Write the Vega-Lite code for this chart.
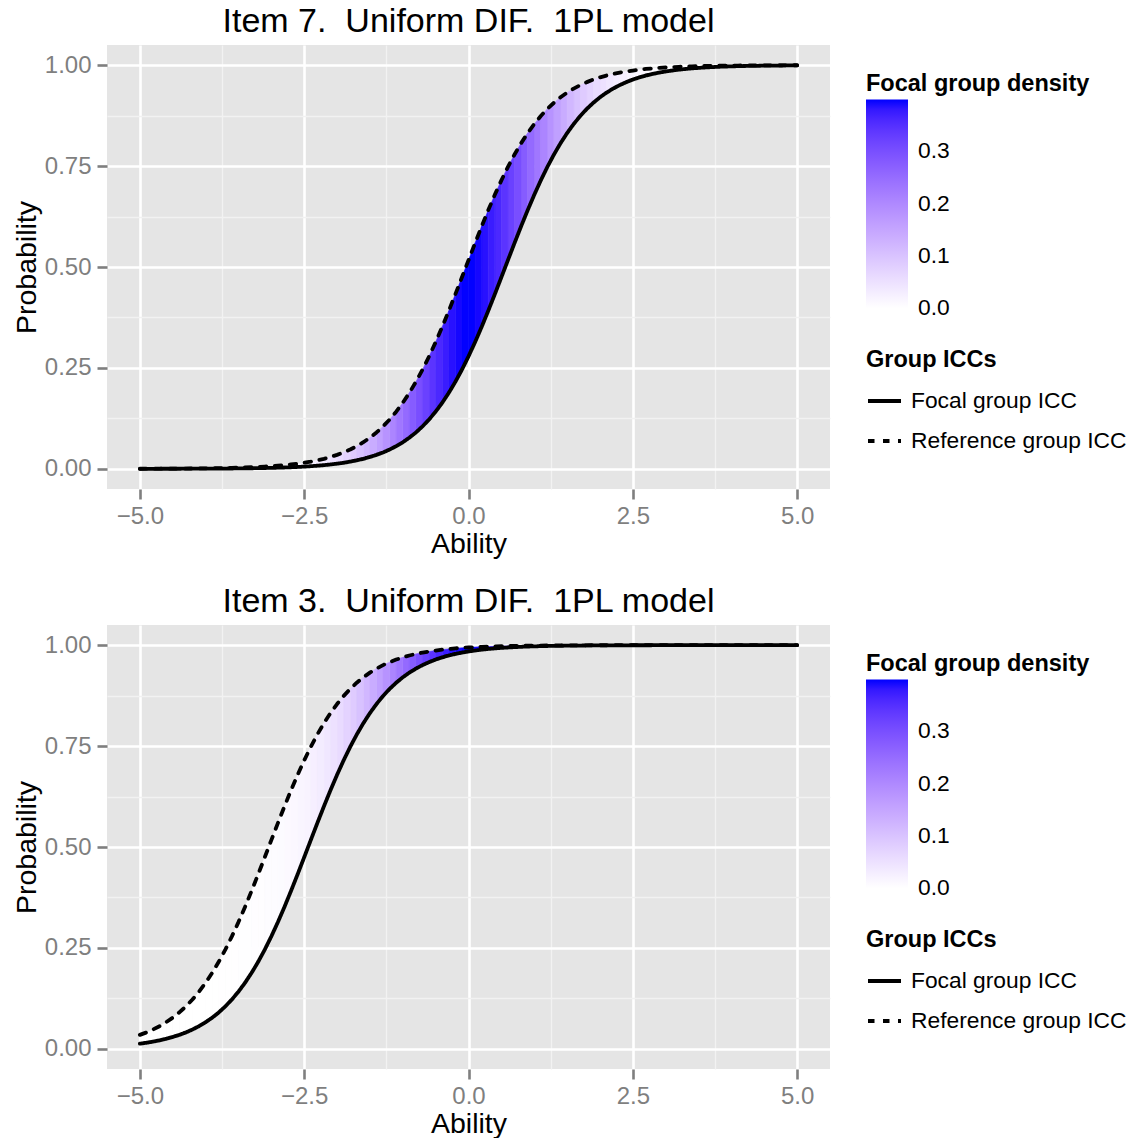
{
"$schema": "https://vega.github.io/schema/vega-lite/v6.json",
"background": "white",
"padding": {"left": 12, "top": 4, "right": 0, "bottom": 0},
"config": {
 "font": "Liberation Sans",
 "view": {"fill": "#E5E5E5", "stroke": null},
 "title": {"fontSize": 34, "fontWeight": "normal", "color": "#000000", "anchor": "middle", "frame": "group", "baseline": "alphabetic", "offset": 6.4},
 "axis": {"domain": false, "tickColor": "#7F7F7F", "tickSize": 10, "tickWidth": 2.6, "labelColor": "#7F7F7F", "labelFontSize": 24, "titleFontSize": 28.5, "titleColor": "#000000", "titleFontWeight": "normal", "labelFlush": false, "labelOverlap": false, "gridOpacity": 1},
 "axisX": {"labelPadding": 5, "titlePadding": 1},
 "axisY": {"labelPadding": 6, "titlePadding": 3},
 "legend": {"titleFontSize": 23.5, "titleFontWeight": "bold", "titleColor": "#000000", "labelFontSize": 22.8, "labelColor": "#000000", "labelLimit": 0, "titleLimit": 0}
},
"data": {"values": [
{"x":-5,"f1":0.0001,"r1":0.0002,"f2":0.0127,"r2":0.0345,"c1":0,"c2":0,"g1":-25,"g2":-25},
{"x":-4.9,"f1":0.0001,"r1":0.0003,"f2":0.0150,"r2":0.0406,"c1":0,"c2":0,"g1":-25,"g2":-24},
{"x":-4.8,"f1":0.0001,"r1":0.0003,"f2":0.0178,"r2":0.0478,"c1":0,"c2":0,"g1":-24,"g2":-24},
{"x":-4.7,"f1":0.0001,"r1":0.0004,"f2":0.0210,"r2":0.0561,"c1":0,"c2":0,"g1":-24,"g2":-23},
{"x":-4.6,"f1":0.0002,"r1":0.0004,"f2":0.0248,"r2":0.0659,"c1":0,"c2":0,"g1":-23,"g2":-23},
{"x":-4.5,"f1":0.0002,"r1":0.0005,"f2":0.0293,"r2":0.0771,"c1":0,"c2":0,"g1":-23,"g2":-22},
{"x":-4.4,"f1":0.0002,"r1":0.0006,"f2":0.0345,"r2":0.0901,"c1":0,"c2":0,"g1":-22,"g2":-22},
{"x":-4.3,"f1":0.0003,"r1":0.0007,"f2":0.0406,"r2":0.1051,"c1":0,"c2":0.0001,"g1":-22,"g2":-21},
{"x":-4.2,"f1":0.0003,"r1":0.0008,"f2":0.0478,"r2":0.1222,"c1":0.0001,"c2":0.0001,"g1":-21,"g2":-21},
{"x":-4.1,"f1":0.0004,"r1":0.0010,"f2":0.0561,"r2":0.1416,"c1":0.0001,"c2":0.0001,"g1":-21,"g2":-20},
{"x":-4.0,"f1":0.0004,"r1":0.0012,"f2":0.0659,"r2":0.1636,"c1":0.0002,"c2":0.0001,"g1":-20,"g2":-20},
{"x":-3.9,"f1":0.0005,"r1":0.0014,"f2":0.0771,"r2":0.1882,"c1":0.0002,"c2":0.0002,"g1":-20,"g2":-19},
{"x":-3.8,"f1":0.0006,"r1":0.0017,"f2":0.0901,"r2":0.2155,"c1":0.0004,"c2":0.0002,"g1":-19,"g2":-19},
{"x":-3.7,"f1":0.0007,"r1":0.0020,"f2":0.1051,"r2":0.2456,"c1":0.0004,"c2":0.0005,"g1":-19,"g2":-18},
{"x":-3.6,"f1":0.0008,"r1":0.0023,"f2":0.1222,"r2":0.2785,"c1":0.0007,"c2":0.0005,"g1":-18,"g2":-18},
{"x":-3.5,"f1":0.0010,"r1":0.0028,"f2":0.1416,"r2":0.3139,"c1":0.0007,"c2":0.0010,"g1":-18,"g2":-17},
{"x":-3.4,"f1":0.0012,"r1":0.0033,"f2":0.1636,"r2":0.3516,"c1":0.0015,"c2":0.0010,"g1":-17,"g2":-17},
{"x":-3.3,"f1":0.0014,"r1":0.0039,"f2":0.1882,"r2":0.3913,"c1":0.0015,"c2":0.0020,"g1":-17,"g2":-16},
{"x":-3.2,"f1":0.0017,"r1":0.0046,"f2":0.2155,"r2":0.4324,"c1":0.0028,"c2":0.0020,"g1":-16,"g2":-16},
{"x":-3.1,"f1":0.0020,"r1":0.0055,"f2":0.2456,"r2":0.4745,"c1":0.0028,"c2":0.0038,"g1":-16,"g2":-15},
{"x":-3.0,"f1":0.0023,"r1":0.0065,"f2":0.2785,"r2":0.5170,"c1":0.0051,"c2":0.0038,"g1":-15,"g2":-15},
{"x":-2.9,"f1":0.0028,"r1":0.0077,"f2":0.3139,"r2":0.5592,"c1":0.0051,"c2":0.0069,"g1":-15,"g2":-14},
{"x":-2.8,"f1":0.0033,"r1":0.0091,"f2":0.3516,"r2":0.6006,"c1":0.0091,"c2":0.0069,"g1":-14,"g2":-14},
{"x":-2.7,"f1":0.0039,"r1":0.0108,"f2":0.3913,"r2":0.6406,"c1":0.0091,"c2":0.0119,"g1":-14,"g2":-13},
{"x":-2.6,"f1":0.0046,"r1":0.0127,"f2":0.4324,"r2":0.6787,"c1":0.0154,"c2":0.0119,"g1":-13,"g2":-13},
{"x":-2.5,"f1":0.0055,"r1":0.0150,"f2":0.4745,"r2":0.7146,"c1":0.0154,"c2":0.0198,"g1":-13,"g2":-12},
{"x":-2.4,"f1":0.0065,"r1":0.0178,"f2":0.5170,"r2":0.7480,"c1":0.0252,"c2":0.0198,"g1":-12,"g2":-12},
{"x":-2.3,"f1":0.0077,"r1":0.0210,"f2":0.5592,"r2":0.7787,"c1":0.0252,"c2":0.0317,"g1":-12,"g2":-11},
{"x":-2.2,"f1":0.0091,"r1":0.0248,"f2":0.6006,"r2":0.8066,"c1":0.0396,"c2":0.0317,"g1":-11,"g2":-11},
{"x":-2.1,"f1":0.0108,"r1":0.0293,"f2":0.6406,"r2":0.8317,"c1":0.0396,"c2":0.0488,"g1":-11,"g2":-10},
{"x":-2.0,"f1":0.0127,"r1":0.0345,"f2":0.6787,"r2":0.8542,"c1":0.0596,"c2":0.0488,"g1":-10,"g2":-10},
{"x":-1.9,"f1":0.0150,"r1":0.0406,"f2":0.7146,"r2":0.8741,"c1":0.0596,"c2":0.0721,"g1":-10,"g2":-9},
{"x":-1.8,"f1":0.0178,"r1":0.0478,"f2":0.7480,"r2":0.8917,"c1":0.0863,"c2":0.0721,"g1":-9,"g2":-9},
{"x":-1.7,"f1":0.0210,"r1":0.0561,"f2":0.7787,"r2":0.9070,"c1":0.0863,"c2":0.1023,"g1":-9,"g2":-8},
{"x":-1.6,"f1":0.0248,"r1":0.0659,"f2":0.8066,"r2":0.9204,"c1":0.1200,"c2":0.1023,"g1":-8,"g2":-8},
{"x":-1.5,"f1":0.0293,"r1":0.0771,"f2":0.8317,"r2":0.9320,"c1":0.1200,"c2":0.1394,"g1":-8,"g2":-7},
{"x":-1.4,"f1":0.0345,"r1":0.0901,"f2":0.8542,"r2":0.9420,"c1":0.1604,"c2":0.1394,"g1":-7,"g2":-7},
{"x":-1.3,"f1":0.0406,"r1":0.1051,"f2":0.8741,"r2":0.9506,"c1":0.1604,"c2":0.1826,"g1":-7,"g2":-6},
{"x":-1.2,"f1":0.0478,"r1":0.1222,"f2":0.8917,"r2":0.9580,"c1":0.2059,"c2":0.1826,"g1":-6,"g2":-6},
{"x":-1.1,"f1":0.0561,"r1":0.1416,"f2":0.9070,"r2":0.9644,"c1":0.2059,"c2":0.2299,"g1":-6,"g2":-5},
{"x":-1.0,"f1":0.0659,"r1":0.1636,"f2":0.9204,"r2":0.9698,"c1":0.2541,"c2":0.2299,"g1":-5,"g2":-5},
{"x":-0.9,"f1":0.0771,"r1":0.1882,"f2":0.9320,"r2":0.9744,"c1":0.2541,"c2":0.2780,"g1":-5,"g2":-4},
{"x":-0.8,"f1":0.0901,"r1":0.2155,"f2":0.9420,"r2":0.9783,"c1":0.3011,"c2":0.2780,"g1":-4,"g2":-4},
{"x":-0.7,"f1":0.1051,"r1":0.2456,"f2":0.9506,"r2":0.9816,"c1":0.3011,"c2":0.3230,"g1":-4,"g2":-3},
{"x":-0.6,"f1":0.1222,"r1":0.2785,"f2":0.9580,"r2":0.9844,"c1":0.3429,"c2":0.3230,"g1":-3,"g2":-3},
{"x":-0.5,"f1":0.1416,"r1":0.3139,"f2":0.9644,"r2":0.9868,"c1":0.3429,"c2":0.3605,"g1":-3,"g2":-2},
{"x":-0.4,"f1":0.1636,"r1":0.3516,"f2":0.9698,"r2":0.9889,"c1":0.3752,"c2":0.3605,"g1":-2,"g2":-2},
{"x":-0.3,"f1":0.1882,"r1":0.3913,"f2":0.9744,"r2":0.9906,"c1":0.3752,"c2":0.3867,"g1":-2,"g2":-1},
{"x":-0.2,"f1":0.2155,"r1":0.4324,"f2":0.9783,"r2":0.9921,"c1":0.3945,"c2":0.3867,"g1":-1,"g2":-1},
{"x":-0.1,"f1":0.2456,"r1":0.4745,"f2":0.9816,"r2":0.9933,"c1":0.3945,"c2":0.3984,"g1":-1,"g2":0},
{"x":0,"f1":0.2785,"r1":0.5170,"f2":0.9844,"r2":0.9943,"c1":0.3984,"c2":0.3984,"g1":0,"g2":0},
{"x":0.1,"f1":0.3139,"r1":0.5592,"f2":0.9868,"r2":0.9952,"c1":0.3984,"c2":0.3945,"g1":0,"g2":1},
{"x":0.2,"f1":0.3516,"r1":0.6006,"f2":0.9889,"r2":0.9960,"c1":0.3867,"c2":0.3945,"g1":1,"g2":1},
{"x":0.3,"f1":0.3913,"r1":0.6406,"f2":0.9906,"r2":0.9966,"c1":0.3867,"c2":0.3752,"g1":1,"g2":2},
{"x":0.4,"f1":0.4324,"r1":0.6787,"f2":0.9921,"r2":0.9971,"c1":0.3605,"c2":0.3752,"g1":2,"g2":2},
{"x":0.5,"f1":0.4745,"r1":0.7146,"f2":0.9933,"r2":0.9976,"c1":0.3605,"c2":0.3429,"g1":2,"g2":3},
{"x":0.6,"f1":0.5170,"r1":0.7480,"f2":0.9943,"r2":0.9980,"c1":0.3230,"c2":0.3429,"g1":3,"g2":3},
{"x":0.7,"f1":0.5592,"r1":0.7787,"f2":0.9952,"r2":0.9983,"c1":0.3230,"c2":0.3011,"g1":3,"g2":4},
{"x":0.8,"f1":0.6006,"r1":0.8066,"f2":0.9960,"r2":0.9985,"c1":0.2780,"c2":0.3011,"g1":4,"g2":4},
{"x":0.9,"f1":0.6406,"r1":0.8317,"f2":0.9966,"r2":0.9988,"c1":0.2780,"c2":0.2541,"g1":4,"g2":5},
{"x":1.0,"f1":0.6787,"r1":0.8542,"f2":0.9971,"r2":0.9990,"c1":0.2299,"c2":0.2541,"g1":5,"g2":5},
{"x":1.1,"f1":0.7146,"r1":0.8741,"f2":0.9976,"r2":0.9991,"c1":0.2299,"c2":0.2059,"g1":5,"g2":6},
{"x":1.2,"f1":0.7480,"r1":0.8917,"f2":0.9980,"r2":0.9993,"c1":0.1826,"c2":0.2059,"g1":6,"g2":6},
{"x":1.3,"f1":0.7787,"r1":0.9070,"f2":0.9983,"r2":0.9994,"c1":0.1826,"c2":0.1604,"g1":6,"g2":7},
{"x":1.4,"f1":0.8066,"r1":0.9204,"f2":0.9985,"r2":0.9995,"c1":0.1394,"c2":0.1604,"g1":7,"g2":7},
{"x":1.5,"f1":0.8317,"r1":0.9320,"f2":0.9988,"r2":0.9996,"c1":0.1394,"c2":0.1200,"g1":7,"g2":8},
{"x":1.6,"f1":0.8542,"r1":0.9420,"f2":0.9990,"r2":0.9996,"c1":0.1023,"c2":0.1200,"g1":8,"g2":8},
{"x":1.7,"f1":0.8741,"r1":0.9506,"f2":0.9991,"r2":0.9997,"c1":0.1023,"c2":0.0863,"g1":8,"g2":9},
{"x":1.8,"f1":0.8917,"r1":0.9580,"f2":0.9993,"r2":0.9997,"c1":0.0721,"c2":0.0863,"g1":9,"g2":9},
{"x":1.9,"f1":0.9070,"r1":0.9644,"f2":0.9994,"r2":0.9998,"c1":0.0721,"c2":0.0596,"g1":9,"g2":10},
{"x":2.0,"f1":0.9204,"r1":0.9698,"f2":0.9995,"r2":0.9998,"c1":0.0488,"c2":0.0596,"g1":10,"g2":10},
{"x":2.1,"f1":0.9320,"r1":0.9744,"f2":0.9996,"r2":0.9998,"c1":0.0488,"c2":0.0396,"g1":10,"g2":11},
{"x":2.2,"f1":0.9420,"r1":0.9783,"f2":0.9996,"r2":0.9999,"c1":0.0317,"c2":0.0396,"g1":11,"g2":11},
{"x":2.3,"f1":0.9506,"r1":0.9816,"f2":0.9997,"r2":0.9999,"c1":0.0317,"c2":0.0252,"g1":11,"g2":12},
{"x":2.4,"f1":0.9580,"r1":0.9844,"f2":0.9997,"r2":0.9999,"c1":0.0198,"c2":0.0252,"g1":12,"g2":12},
{"x":2.5,"f1":0.9644,"r1":0.9868,"f2":0.9998,"r2":0.9999,"c1":0.0198,"c2":0.0154,"g1":12,"g2":13},
{"x":2.6,"f1":0.9698,"r1":0.9889,"f2":0.9998,"r2":0.9999,"c1":0.0119,"c2":0.0154,"g1":13,"g2":13},
{"x":2.7,"f1":0.9744,"r1":0.9906,"f2":0.9998,"r2":0.9999,"c1":0.0119,"c2":0.0091,"g1":13,"g2":14},
{"x":2.8,"f1":0.9783,"r1":0.9921,"f2":0.9999,"r2":0.9999,"c1":0.0069,"c2":0.0091,"g1":14,"g2":14},
{"x":2.9,"f1":0.9816,"r1":0.9933,"f2":0.9999,"r2":1,"c1":0.0069,"c2":0.0051,"g1":14,"g2":15},
{"x":3.0,"f1":0.9844,"r1":0.9943,"f2":0.9999,"r2":1,"c1":0.0038,"c2":0.0051,"g1":15,"g2":15},
{"x":3.1,"f1":0.9868,"r1":0.9952,"f2":0.9999,"r2":1,"c1":0.0038,"c2":0.0028,"g1":15,"g2":16},
{"x":3.2,"f1":0.9889,"r1":0.9960,"f2":0.9999,"r2":1,"c1":0.0020,"c2":0.0028,"g1":16,"g2":16},
{"x":3.3,"f1":0.9906,"r1":0.9966,"f2":0.9999,"r2":1,"c1":0.0020,"c2":0.0015,"g1":16,"g2":17},
{"x":3.4,"f1":0.9921,"r1":0.9971,"f2":0.9999,"r2":1,"c1":0.0010,"c2":0.0015,"g1":17,"g2":17},
{"x":3.5,"f1":0.9933,"r1":0.9976,"f2":1,"r2":1,"c1":0.0010,"c2":0.0007,"g1":17,"g2":18},
{"x":3.6,"f1":0.9943,"r1":0.9980,"f2":1,"r2":1,"c1":0.0005,"c2":0.0007,"g1":18,"g2":18},
{"x":3.7,"f1":0.9952,"r1":0.9983,"f2":1,"r2":1,"c1":0.0005,"c2":0.0004,"g1":18,"g2":19},
{"x":3.8,"f1":0.9960,"r1":0.9985,"f2":1,"r2":1,"c1":0.0002,"c2":0.0004,"g1":19,"g2":19},
{"x":3.9,"f1":0.9966,"r1":0.9988,"f2":1,"r2":1,"c1":0.0002,"c2":0.0002,"g1":19,"g2":20},
{"x":4.0,"f1":0.9971,"r1":0.9990,"f2":1,"r2":1,"c1":0.0001,"c2":0.0002,"g1":20,"g2":20},
{"x":4.1,"f1":0.9976,"r1":0.9991,"f2":1,"r2":1,"c1":0.0001,"c2":0.0001,"g1":20,"g2":21},
{"x":4.2,"f1":0.9980,"r1":0.9993,"f2":1,"r2":1,"c1":0.0001,"c2":0.0001,"g1":21,"g2":21},
{"x":4.3,"f1":0.9983,"r1":0.9994,"f2":1,"r2":1,"c1":0.0001,"c2":0,"g1":21,"g2":22},
{"x":4.4,"f1":0.9985,"r1":0.9995,"f2":1,"r2":1,"c1":0,"c2":0,"g1":22,"g2":22},
{"x":4.5,"f1":0.9988,"r1":0.9996,"f2":1,"r2":1,"c1":0,"c2":0,"g1":22,"g2":23},
{"x":4.6,"f1":0.9990,"r1":0.9996,"f2":1,"r2":1,"c1":0,"c2":0,"g1":23,"g2":23},
{"x":4.7,"f1":0.9991,"r1":0.9997,"f2":1,"r2":1,"c1":0,"c2":0,"g1":23,"g2":24},
{"x":4.8,"f1":0.9993,"r1":0.9997,"f2":1,"r2":1,"c1":0,"c2":0,"g1":24,"g2":24},
{"x":4.9,"f1":0.9994,"r1":0.9998,"f2":1,"r2":1,"c1":0,"c2":0,"g1":24,"g2":25},
{"x":5.0,"f1":0.9995,"r1":0.9998,"f2":1,"r2":1,"c1":0,"c2":0,"g1":25,"g2":25}
]},
"spacing": 26,
"resolve": {"scale": {"fill": "independent", "stroke": "independent", "strokeDash": "independent"}, "legend": {"fill": "independent", "stroke": "independent", "strokeDash": "independent"}},
"vconcat": [
{
 "title": {"text": "Item 7.\u00a0 Uniform DIF.\u00a0 1PL model"},
 "width": 723, "height": 444,
 "encoding": {
  "x": {"field": "x", "type": "quantitative", "title": "Ability", "scale": {"domain": [-5.5, 5.5], "nice": false, "zero": false},
   "axis": {"values": [-5, -3.75, -2.5, -1.25, 0, 1.25, 2.5, 3.75, 5], "format": ".1f",
    "labelExpr": "abs(datum.value % 2.5) < 1e-6 ? datum.label : ''",
    "gridColor": {"condition": {"test": "abs(datum.value % 2.5) > 1e-6", "value": "#F2F2F2"}, "value": "#FFFFFF"},
    "gridWidth": {"condition": {"test": "abs(datum.value % 2.5) > 1e-6", "value": 1.3}, "value": 2.6},
    "tickOpacity": {"condition": {"test": "abs(datum.value % 2.5) > 1e-6", "value": 0}, "value": 1}}}
 },
 "layer": [
  {"mark": {"type": "area", "strokeWidth": 0.6, "opacity": 1},
   "encoding": {
    "y": {"field": "r1", "type": "quantitative", "title": "Probability", "stack": null, "scale": {"domain": [-0.05, 1.05], "nice": false, "zero": false},
     "axis": {"values": [0, 0.125, 0.25, 0.375, 0.5, 0.625, 0.75, 0.875, 1], "format": ".2f",
      "labelExpr": "abs(datum.value % 0.25) < 1e-6 ? datum.label : ''",
      "gridColor": {"condition": {"test": "abs(datum.value % 0.25) > 1e-6", "value": "#F2F2F2"}, "value": "#FFFFFF"},
      "gridWidth": {"condition": {"test": "abs(datum.value % 0.25) > 1e-6", "value": 1.3}, "value": 2.6},
      "tickOpacity": {"condition": {"test": "abs(datum.value % 0.25) > 1e-6", "value": 0}, "value": 1}}},
    "y2": {"field": "f1"},
    "detail": {"field": "g1", "type": "nominal"},
    "fill": {"field": "c1", "type": "quantitative", "title": "Focal group density", "scale": {"domain": [-0.0005, 0.3989], "range": ["#FFFFFF", "#0000FF"], "interpolate": "lab"},
     "legend": {"type": "gradient", "orient": "none", "legendX": 759, "legendY": 27, "direction": "vertical", "gradientLength": 209, "gradientThickness": 42, "values": [0, 0.1, 0.2, 0.3], "format": ".1f", "labelOffset": 10, "titlePadding": 4, "gradientStrokeWidth": 0, "labelOverlap": false}},
    "stroke": {"field": "c1", "type": "quantitative", "scale": {"domain": [0, 0.399], "range": ["#FFFFFF", "#0000FF"], "interpolate": "lab"}, "legend": null}
   }},
  {"mark": {"type": "area", "strokeWidth": 0.6, "opacity": 1},
   "encoding": {
    "y": {"field": "r1", "type": "quantitative", "title": "Probability", "stack": null, "scale": {"domain": [-0.05, 1.05], "nice": false, "zero": false}},
    "y2": {"field": "f1"},
    "detail": {"field": "g2", "type": "nominal"},
    "fill": {"field": "c2", "type": "quantitative", "title": "Focal group density", "scale": {"domain": [-0.0005, 0.3989], "range": ["#FFFFFF", "#0000FF"], "interpolate": "lab"}},
    "stroke": {"field": "c2", "type": "quantitative", "scale": {"domain": [0, 0.399], "range": ["#FFFFFF", "#0000FF"], "interpolate": "lab"}, "legend": null}
   }},
  {"mark": {"type": "line", "color": "#000000", "strokeWidth": 3.8, "strokeCap": "round", "strokeJoin": "round"},
   "encoding": {
    "y": {"field": "f1", "type": "quantitative", "title": "Probability", "stack": null, "scale": {"domain": [-0.05, 1.05], "nice": false, "zero": false}},
    "strokeDash": {"datum": "Focal group ICC", "type": "nominal", "scale": {"domain": ["Focal group ICC", "Reference group ICC"], "range": [[1, 0], [6.5, 8.5]]},
     "legend": {"title": "Group ICCs", "orient": "none", "legendX": 759, "legendY": 303, "symbolType": "stroke", "symbolSize": 1089, "symbolStrokeWidth": 3.8, "symbolStrokeColor": "#000000", "labelOffset": 8, "rowPadding": 9, "titlePadding": 11}}
   }},
  {"mark": {"type": "line", "color": "#000000", "strokeWidth": 3.8, "strokeCap": "round", "strokeJoin": "round"},
   "encoding": {
    "y": {"field": "r1", "type": "quantitative", "title": "Probability", "stack": null, "scale": {"domain": [-0.05, 1.05], "nice": false, "zero": false}},
    "strokeDash": {"datum": "Reference group ICC", "type": "nominal"}
   }}
 ]
},
{
 "title": {"text": "Item 3.\u00a0 Uniform DIF.\u00a0 1PL model"},
 "width": 723, "height": 444,
 "encoding": {
  "x": {"field": "x", "type": "quantitative", "title": "Ability", "scale": {"domain": [-5.5, 5.5], "nice": false, "zero": false},
   "axis": {"values": [-5, -3.75, -2.5, -1.25, 0, 1.25, 2.5, 3.75, 5], "format": ".1f",
    "labelExpr": "abs(datum.value % 2.5) < 1e-6 ? datum.label : ''",
    "gridColor": {"condition": {"test": "abs(datum.value % 2.5) > 1e-6", "value": "#F2F2F2"}, "value": "#FFFFFF"},
    "gridWidth": {"condition": {"test": "abs(datum.value % 2.5) > 1e-6", "value": 1.3}, "value": 2.6},
    "tickOpacity": {"condition": {"test": "abs(datum.value % 2.5) > 1e-6", "value": 0}, "value": 1}}}
 },
 "layer": [
  {"mark": {"type": "area", "strokeWidth": 0.6, "opacity": 1},
   "encoding": {
    "y": {"field": "r2", "type": "quantitative", "title": "Probability", "stack": null, "scale": {"domain": [-0.05, 1.05], "nice": false, "zero": false},
     "axis": {"values": [0, 0.125, 0.25, 0.375, 0.5, 0.625, 0.75, 0.875, 1], "format": ".2f",
      "labelExpr": "abs(datum.value % 0.25) < 1e-6 ? datum.label : ''",
      "gridColor": {"condition": {"test": "abs(datum.value % 0.25) > 1e-6", "value": "#F2F2F2"}, "value": "#FFFFFF"},
      "gridWidth": {"condition": {"test": "abs(datum.value % 0.25) > 1e-6", "value": 1.3}, "value": 2.6},
      "tickOpacity": {"condition": {"test": "abs(datum.value % 0.25) > 1e-6", "value": 0}, "value": 1}}},
    "y2": {"field": "f2"},
    "detail": {"field": "g1", "type": "nominal"},
    "fill": {"field": "c1", "type": "quantitative", "title": "Focal group density", "scale": {"domain": [-0.0005, 0.3989], "range": ["#FFFFFF", "#0000FF"], "interpolate": "lab"},
     "legend": {"type": "gradient", "orient": "none", "legendX": 759, "legendY": 27, "direction": "vertical", "gradientLength": 209, "gradientThickness": 42, "values": [0, 0.1, 0.2, 0.3], "format": ".1f", "labelOffset": 10, "titlePadding": 4, "gradientStrokeWidth": 0, "labelOverlap": false}},
    "stroke": {"field": "c1", "type": "quantitative", "scale": {"domain": [0, 0.399], "range": ["#FFFFFF", "#0000FF"], "interpolate": "lab"}, "legend": null}
   }},
  {"mark": {"type": "area", "strokeWidth": 0.6, "opacity": 1},
   "encoding": {
    "y": {"field": "r2", "type": "quantitative", "title": "Probability", "stack": null, "scale": {"domain": [-0.05, 1.05], "nice": false, "zero": false}},
    "y2": {"field": "f2"},
    "detail": {"field": "g2", "type": "nominal"},
    "fill": {"field": "c2", "type": "quantitative", "title": "Focal group density", "scale": {"domain": [-0.0005, 0.3989], "range": ["#FFFFFF", "#0000FF"], "interpolate": "lab"}},
    "stroke": {"field": "c2", "type": "quantitative", "scale": {"domain": [0, 0.399], "range": ["#FFFFFF", "#0000FF"], "interpolate": "lab"}, "legend": null}
   }},
  {"mark": {"type": "line", "color": "#000000", "strokeWidth": 3.8, "strokeCap": "round", "strokeJoin": "round"},
   "encoding": {
    "y": {"field": "f2", "type": "quantitative", "title": "Probability", "stack": null, "scale": {"domain": [-0.05, 1.05], "nice": false, "zero": false}},
    "strokeDash": {"datum": "Focal group ICC", "type": "nominal", "scale": {"domain": ["Focal group ICC", "Reference group ICC"], "range": [[1, 0], [6.5, 8.5]]},
     "legend": {"title": "Group ICCs", "orient": "none", "legendX": 759, "legendY": 303, "symbolType": "stroke", "symbolSize": 1089, "symbolStrokeWidth": 3.8, "symbolStrokeColor": "#000000", "labelOffset": 8, "rowPadding": 9, "titlePadding": 11}}
   }},
  {"mark": {"type": "line", "color": "#000000", "strokeWidth": 3.8, "strokeCap": "round", "strokeJoin": "round"},
   "encoding": {
    "y": {"field": "r2", "type": "quantitative", "title": "Probability", "stack": null, "scale": {"domain": [-0.05, 1.05], "nice": false, "zero": false}},
    "strokeDash": {"datum": "Reference group ICC", "type": "nominal"}
   }}
 ]
}
]
}
